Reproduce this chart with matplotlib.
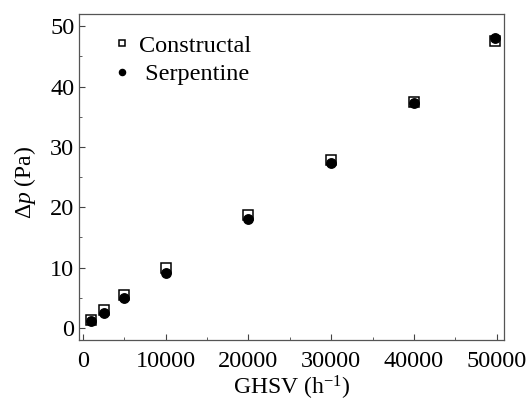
import matplotlib.pyplot as plt
from matplotlib.ticker import MultipleLocator

plt.rcParams['font.family'] = 'Liberation Serif'
plt.rcParams['mathtext.fontset'] = 'custom'
plt.rcParams['mathtext.rm'] = 'Liberation Serif'
plt.rcParams['mathtext.it'] = 'Liberation Serif:italic'

# caudal (GHSV) y caida de presion de cada distribuidor
ghsv = [1000, 2500, 5000, 10000, 20000, 30000, 40000, 49800]
dp_constructal = [1.3, 3.0, 5.5, 10.0, 18.8, 27.8, 37.5, 47.6]
dp_serpentine = [1.2, 2.5, 5.0, 9.1, 18.0, 27.3, 37.3, 48.0]

fig = plt.figure(figsize=(5.28, 4.03), dpi=100)
ax = fig.add_axes([0.150, 0.156, 0.805, 0.809])

ax.plot(ghsv, dp_constructal, 's', ms=7.2, mfc='white', mec='black',
        mew=1.1, label='Constructal')
ax.plot(ghsv, dp_serpentine, 'o', ms=6.8, color='black', label=' Serpentine')

ax.set_xlim(-450, 50900)
ax.set_ylim(-2, 52)
ax.xaxis.set_major_locator(MultipleLocator(10000))
ax.xaxis.set_minor_locator(MultipleLocator(5000))
ax.yaxis.set_major_locator(MultipleLocator(10))
ax.yaxis.set_minor_locator(MultipleLocator(5))
ax.tick_params(which='both', direction='in', labelsize=17.5, colors='#444444',
               labelcolor='black', top=False, right=False)
ax.tick_params(which='major', length=4)
ax.tick_params(which='minor', length=2.5)
ax.tick_params(axis='x', which='major', pad=8)
for s in ax.spines.values():
    s.set_color('#555555')
    s.set_linewidth(0.9)

ax.set_xlabel('GHSV (h$^{-1}$)', fontsize=17, labelpad=1.5)
ax.set_ylabel(r'$\Delta p$ (Pa)', fontsize=17)
ax.yaxis.set_label_coords(-0.096, 0.485)

ax.legend(loc='upper left', frameon=False, fontsize=17.5, markerscale=0.65,
          handlelength=1.0, handletextpad=0.2, labelspacing=0.28,
          borderaxespad=0, bbox_to_anchor=(0.05, 0.967))

fig.savefig('out.png', dpi=100)
